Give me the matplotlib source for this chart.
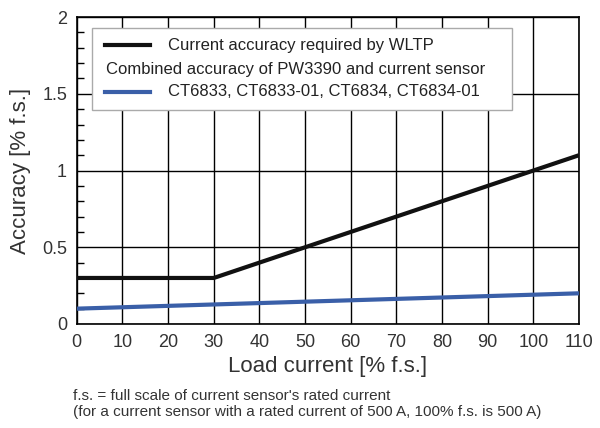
import matplotlib
matplotlib.use("Agg")
import matplotlib.pyplot as plt
from matplotlib.patches import Rectangle
from matplotlib.ticker import MultipleLocator

wltp_x = [0, 30, 110]
wltp_y = [0.3, 0.3, 1.1]
sensor_x = [0, 110]
sensor_y = [0.1, 0.2]
x_ticks = list(range(0, 111, 10))
y_ticks = [0, 0.5, 1, 1.5, 2]
y_labels = ["0", "0.5", "1", "1.5", "2"]

plt.rcParams["font.family"] = "Liberation Sans"
fig = plt.figure(figsize=(6, 4.28), dpi=100)
ax = fig.add_axes([0.128, 0.243, 0.837, 0.717])
ax.set_xlim(0, 110)
ax.set_ylim(0, 2)
ax.set_xticks(x_ticks)
ax.set_yticks(y_ticks)
ax.set_yticklabels(y_labels)
ax.yaxis.set_minor_locator(MultipleLocator(0.1))
ax.tick_params(axis="both", which="major", length=0, labelsize=13, colors="#333333", pad=7)
ax.tick_params(axis="y", which="minor", direction="in", length=5, width=1)
ax.grid(True, which="major", color="black", linewidth=1)
for s in ax.spines.values():
    s.set_linewidth(1.2)

ax.plot(wltp_x, wltp_y, color="#111111", linewidth=3, solid_capstyle="butt", zorder=3)
ax.plot(sensor_x, sensor_y, color="#3a5fa8", linewidth=3, solid_capstyle="butt", zorder=3)

ax.set_xlabel("Load current [% f.s.]", fontsize=16, color="#333333", labelpad=4)
ax.set_ylabel("Accuracy [% f.s.]", fontsize=16, color="#333333", labelpad=8)

tr = ax.transAxes
ax.add_patch(Rectangle((0.03, 0.697), 0.837, 0.267, transform=tr, facecolor="white",
                       edgecolor="#aaaaaa", linewidth=1, zorder=4))
ax.plot([0.056, 0.146], [0.909, 0.909], transform=tr, color="#111111", lw=3, zorder=5)
ax.text(0.181, 0.909, "Current accuracy required by WLTP", transform=tr, va="center",
        fontsize=12, color="#222222", zorder=5)
ax.text(0.058, 0.829, "Combined accuracy of PW3390 and current sensor", transform=tr,
        va="center", fontsize=12, color="#222222", zorder=5)
ax.plot([0.056, 0.146], [0.756, 0.756], transform=tr, color="#3a5fa8", lw=3, zorder=5)
ax.text(0.181, 0.756, "CT6833, CT6833-01, CT6834, CT6834-01", transform=tr, va="center",
        fontsize=12, color="#222222", zorder=5)

fig.text(0.122, 0.056, "f.s. = full scale of current sensor's rated current\n"
         "(for a current sensor with a rated current of 500 A, 100% f.s. is 500 A)",
         fontsize=11, color="#333333", va="center", linespacing=1.15)

fig.savefig("out.png", dpi=100)
